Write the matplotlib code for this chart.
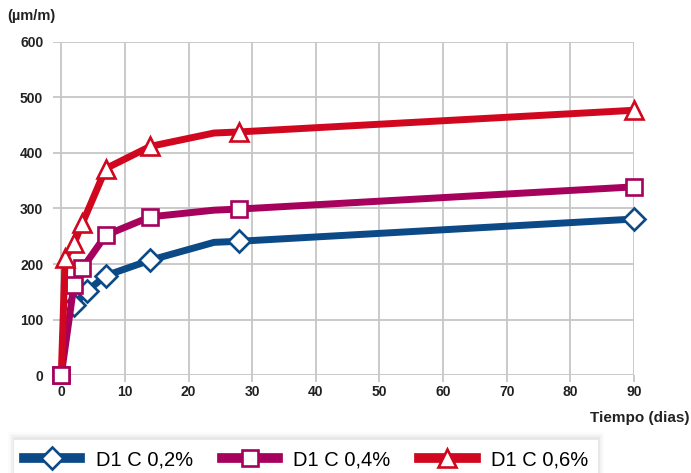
import matplotlib
matplotlib.use("Agg")
import matplotlib.pyplot as plt
from matplotlib.patches import Rectangle

# data
days_02 = [2, 4, 7, 14, 24, 28, 90]
vals_02 = [126, 151, 179, 207, 239, 241, 281]
days_04 = [0, 2, 3.3, 7, 14, 24, 28, 90]
vals_04 = [0, 163, 192, 252, 285, 297, 299, 339]
days_06 = [0, 0.6, 2, 3.3, 7, 14, 24, 28, 90]
vals_06 = [0, 210, 237, 273, 372, 412, 436, 438, 477]

labels = ["D1 C 0,2%", "D1 C 0,4%", "D1 C 0,6%"]
colors = ["#0b4a86", "#a6015c", "#d0071f"]

plt.rcParams['font.family'] = ['Liberation Sans Narrow', 'Liberation Sans', 'DejaVu Sans']

fig = plt.figure(figsize=(6.91, 4.73), dpi=100)
ax = fig.add_axes([53/691, 1-375/473, (634-53)/691, (375-42)/473])

lw = 5
mew = 1.9
# no marker at day 24 (and none at day 0 for red)
ax.plot(days_02, vals_02, color=colors[0], lw=lw, marker='D', ms=11,
        mfc='white', mec=colors[0], mew=mew, markevery=[0, 1, 2, 3, 5, 6],
        label=labels[0], zorder=3, solid_joinstyle='round', clip_on=False)
ax.plot(days_04, vals_04, color=colors[1], lw=lw, marker='s', ms=11,
        mfc='white', mec=colors[1], mew=mew, markevery=[0, 1, 2, 3, 4, 6, 7],
        label=labels[1], zorder=3, solid_joinstyle='round', clip_on=False)
ax.plot(days_06, vals_06, color=colors[2], lw=lw, marker='^', ms=13,
        mfc='white', mec=colors[2], mew=mew, markevery=[1, 2, 3, 4, 5, 7, 8],
        label=labels[2], zorder=3, solid_joinstyle='round', clip_on=False)
# purple start marker sits on top of the red line
ax.plot(days_04[:1], vals_04[:1], ls='none', marker='s', ms=11,
        mfc='white', mec=colors[1], mew=mew, zorder=4, clip_on=False)

ax.set_xlim(-1.3, 90)
ax.set_ylim(0, 600)
ax.set_xticks(range(0, 91, 10))
ax.set_yticks(range(0, 601, 100))
ax.grid(True, color='#c6c6c6', lw=1.3)
ax.set_axisbelow(True)
for s in ax.spines.values():
    s.set_visible(False)
ax.tick_params(axis='x', length=5, width=1.3, color='#c6c6c6', pad=2)
ax.tick_params(axis='y', length=0, pad=7)
for t in ax.get_xticklabels() + ax.get_yticklabels():
    t.set_fontsize(10)
    t.set_fontweight('bold')
    t.set_color('#222222')

fig.text(7/691, 1-16/473, "(µm/m)", fontsize=10.5, fontweight='bold',
         color='#222222', va='center', ha='left')
fig.text(689/691, 1-418/473, "Tiempo (dias)", fontsize=11, fontweight='bold',
         color='#222222', va='center', ha='right')

# soft shadow behind the legend box
for i, a in enumerate([0.035, 0.025, 0.018, 0.012]):
    d = (i + 1) * 1.5
    fig.patches.append(Rectangle(((14 - d)/691, 0), (584 + 2*d)/691, (35 + d)/473,
                                 transform=fig.transFigure, facecolor='black',
                                 alpha=a, edgecolor='none', zorder=0))

leg = fig.legend(loc='upper left', bbox_to_anchor=(14/691, 1-440/473, 584/691, 0),
                 mode='expand', ncol=3,
                 frameon=True, fancybox=False, shadow=False, handlelength=2.8,
                 handletextpad=0.75, columnspacing=1.3, borderpad=0.5,
                 borderaxespad=0, framealpha=1,
                 prop={'family': ['Liberation Sans', 'DejaVu Sans'], 'size': 14.5})
leg.get_frame().set_edgecolor('white')
leg.get_frame().set_linewidth(0)
for h in leg.legend_handles:
    h.set_linewidth(7)

fig.savefig("out.png", dpi=100)
